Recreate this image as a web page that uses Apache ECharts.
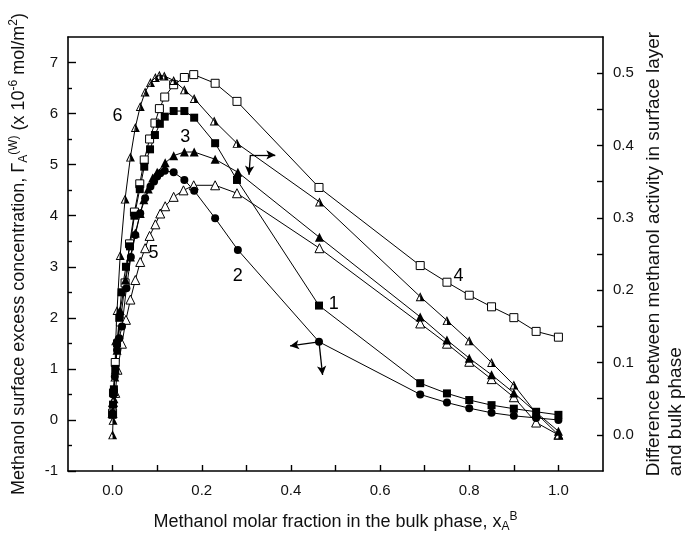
<!DOCTYPE html>
<html><head><meta charset="utf-8">
<script src="https://cdn.jsdelivr.net/npm/echarts@6/dist/echarts.min.js"></script>
<style>html,body{margin:0;padding:0;background:#fff}#c{width:686px;height:538px}</style>
</head><body><div id="c"></div>
<script>
// ---- data (x = methanol molar fraction in bulk phase) ----
// Curve 1 (filled squares, left axis, Γ x10^-6 mol/m2)
const curve1 = [[0.0,0.1],[0.001,0.3],[0.003,0.6],[0.006,1.0],[0.01,1.5],[0.015,2.0],[0.02,2.5],[0.03,3.0],[0.039,3.4],[0.049,4.0],[0.061,4.52],[0.071,4.96],[0.084,5.3],[0.095,5.58],[0.106,5.8],[0.117,5.94],[0.137,6.05],[0.161,6.05],[0.183,5.92],[0.23,5.42],[0.279,4.70],[0.463,2.24],[0.69,0.72],[0.75,0.52],[0.8,0.39],[0.85,0.29],[0.9,0.22],[0.95,0.16],[1.0,0.10]];
// Curve 2 (filled circles, left axis)
const curve2 = [[0.0,0.13],[0.002,0.5],[0.005,0.85],[0.0099,1.37],[0.015,1.6],[0.021,1.83],[0.031,2.58],[0.041,3.19],[0.051,3.62],[0.062,4.05],[0.073,4.34],[0.085,4.57],[0.093,4.67],[0.100,4.77],[0.107,4.83],[0.117,4.88],[0.137,4.85],[0.161,4.70],[0.183,4.49],[0.230,3.95],[0.281,3.33],[0.463,1.53],[0.69,0.50],[0.75,0.34],[0.8,0.23],[0.85,0.14],[0.9,0.08],[0.95,0.04],[1.0,0.0]];
// Curve 3 (filled triangles, right axis, activity difference)
const curve3 = [[0.0,0.03],[0.003,0.06],[0.006,0.09],[0.01,0.117],[0.017,0.172],[0.029,0.214],[0.040,0.246],[0.051,0.279],[0.062,0.306],[0.07,0.325],[0.08,0.34],[0.09,0.355],[0.100,0.363],[0.118,0.376],[0.137,0.386],[0.161,0.391],[0.183,0.391],[0.230,0.381],[0.281,0.363],[0.464,0.273],[0.69,0.163],[0.75,0.131],[0.8,0.106],[0.85,0.083],[0.9,0.058],[0.95,0.031],[1.0,0.005]];
// Curve 4 (open squares, right axis)
const curve4 = [[0.0,0.03],[0.002,0.058],[0.006,0.1],[0.0175,0.156],[0.028,0.21],[0.038,0.264],[0.049,0.308],[0.061,0.347],[0.071,0.380],[0.083,0.409],[0.095,0.431],[0.105,0.451],[0.117,0.467],[0.137,0.484],[0.161,0.494],[0.182,0.498],[0.230,0.486],[0.279,0.461],[0.463,0.342],[0.69,0.234],[0.75,0.211],[0.8,0.193],[0.85,0.177],[0.9,0.162],[0.95,0.143],[1.0,0.135]];
// Curve 5 (open triangles, right axis)
const curve5 = [[0.0,0.03],[0.001,0.045],[0.006,0.058],[0.011,0.090],[0.021,0.126],[0.030,0.159],[0.040,0.187],[0.051,0.214],[0.062,0.239],[0.073,0.258],[0.083,0.275],[0.096,0.291],[0.107,0.306],[0.118,0.316],[0.137,0.329],[0.159,0.338],[0.182,0.345],[0.230,0.345],[0.279,0.334],[0.464,0.258],[0.69,0.154],[0.75,0.126],[0.8,0.101],[0.85,0.077],[0.9,0.052],[0.95,0.017],[1.0,0.0]];
// Curve 6 (half-filled triangles, right axis)
const curve6 = [[0.0,0.0],[0.001,0.02],[0.003,0.05],[0.005,0.08],[0.007,0.13],[0.01,0.172],[0.017,0.248],[0.028,0.326],[0.040,0.384],[0.051,0.425],[0.062,0.454],[0.073,0.474],[0.085,0.487],[0.096,0.494],[0.105,0.497],[0.116,0.496],[0.137,0.490],[0.161,0.477],[0.183,0.465],[0.228,0.434],[0.279,0.403],[0.464,0.322],[0.69,0.191],[0.75,0.158],[0.8,0.130],[0.85,0.100],[0.9,0.069],[0.95,0.03],[1.0,0.0]];

// curve number labels (left-axis data coordinates)
const curveLabels = [['6',0.011,5.96],['3',0.163,5.55],['5',0.092,3.27],['2',0.281,2.82],['1',0.496,2.27],['4',0.776,2.81]];
// axis-indicator arrows (left-axis data coordinates): [fromX, fromY, toX, toY]
const arrows = [[0.463,1.53,0.398,1.45],[0.463,1.53,0.471,0.88],[0.309,5.19,0.365,5.19],[0.309,5.19,0.306,4.80]];

// ticks (labels on majors; ticks on majors and minors)
const xMajor = [0,0.2,0.4,0.6,0.8,1.0];
const xTicks = [0,0.1,0.2,0.3,0.4,0.5,0.6,0.7,0.8,0.9,1.0];
const yLeftMajor = [-1,0,1,2,3,4,5,6,7];
const yRightMajor = [0,0.1,0.2,0.3,0.4,0.5];
const yRightTicks = [0,0.05,0.1,0.15,0.2,0.25,0.3,0.35,0.4,0.45,0.5];

const FONT = '"Liberation Sans", Arial, sans-serif';
const halfTri = 'path://M5,0 L10,10 L0,10 Z M5,2.24 L1.62,9 L5,9 Z';
const supS = {fontSize: 12, fontFamily: FONT, color: '#111', padding: [0,0,10,0]};
const subS = {fontSize: 12, fontFamily: FONT, color: '#111', padding: [10,0,0,0]};

const axisLineS = () => ({show: true, onZero: false, lineStyle: {color: '#000', width: 1.6}});
const tickS = (vals, len) => ({show: true, inside: true, length: len, customValues: vals, lineStyle: {color: '#000', width: 1.4}});

function lineSeries(name, data, yIdx, symbol, size, fill) {
  return {
    name, type: 'line', data, xAxisIndex: 0, yAxisIndex: yIdx,
    symbol, symbolSize: size, showAllSymbol: true,
    lineStyle: {color: '#000', width: 1},
    itemStyle: {color: fill, borderColor: '#000', borderWidth: fill === '#fff' ? 1 : 0},
    emphasis: {disabled: true}, animation: false, z: 3
  };
}

const chart = echarts.init(document.getElementById('c'), null, {renderer: 'canvas'});
chart.setOption({
  backgroundColor: '#fff',
  animation: false,
  grid: {left: 68, right: 83, top: 37, bottom: 67, containLabel: false, outerBoundsMode: 'none'},
  xAxis: [
    {type: 'value', min: -0.1, max: 1.1, interval: 0.1, position: 'bottom',
     axisLine: axisLineS(), axisTick: tickS(xTicks, 6),
     axisLabel: {customValues: xMajor, formatter: v => v.toFixed(1), color: '#111', fontSize: 15, fontFamily: FONT, margin: 12},
     splitLine: {show: false},
     name: 'Methanol molar fraction in the bulk phase, x{sub|A}{sup|B}', nameLocation: 'middle', nameGap: 40,
     nameTextStyle: {fontSize: 18, fontFamily: FONT, color: '#111', rich: {sup: supS, sub: subS}}},
    {type: 'value', min: -0.1, max: 1.1, interval: 0.1, position: 'top',
     axisLine: axisLineS(), axisTick: {show: false}, axisLabel: {show: false}, splitLine: {show: false}}
  ],
  yAxis: [
    {type: 'value', min: -1, max: 7.5, interval: 1, position: 'left',
     axisLine: axisLineS(), axisTick: tickS(yLeftMajor, 8),
     minorTick: {show: true, splitNumber: 2, length: 4, lineStyle: {color: '#000', width: 1.4}},
     axisLabel: {customValues: yLeftMajor, color: '#111', fontSize: 15, fontFamily: FONT, margin: 10},
     splitLine: {show: false}, minorSplitLine: {show: false},
     name: 'Methanol surface excess concentration, Γ{sub|A}{sup|(W)} (x 10{sup|-6} mol/m{sup|2})',
     nameLocation: 'middle', nameRotate: 90, nameGap: 38,
     nameTextStyle: {fontSize: 18, fontFamily: FONT, color: '#111', rich: {sup: supS, sub: subS}}},
    {type: 'value', min: -0.05, max: 0.55, interval: 0.05, position: 'right',
     axisLine: axisLineS(), axisTick: tickS(yRightTicks, 6),
     axisLabel: {customValues: yRightMajor, formatter: v => v.toFixed(1), color: '#111', fontSize: 15, fontFamily: FONT, margin: 10},
     splitLine: {show: false},
     name: '{a|Difference between methanol activity in surface layer}\n{a|and bulk phase}',
     nameLocation: 'middle', nameRotate: 90, nameGap: 36,
     nameTextStyle: {fontSize: 19, fontFamily: FONT, color: '#111', align: 'center',
       rich: {a: {fontSize: 19, fontFamily: FONT, color: '#111', lineHeight: 22, align: 'left'}}}}
  ],
  series: [
    lineSeries('4', curve4, 1, 'rect', 8, '#fff'),
    lineSeries('5', curve5, 1, 'triangle', 9, '#fff'),
    lineSeries('6', curve6, 1, halfTri, 9, '#000'),
    lineSeries('3', curve3, 1, 'triangle', 9, '#000'),
    lineSeries('1', curve1, 0, 'rect', 8, '#000'),
    lineSeries('2', curve2, 0, 'circle', 8, '#000'),
    {type: 'scatter', xAxisIndex: 0, yAxisIndex: 0, symbol: 'circle', symbolSize: 2, silent: true, z: 5,
     itemStyle: {color: 'rgba(0,0,0,0)'},
     label: {show: true, position: 'inside', formatter: p => p.data.name, fontSize: 18, fontFamily: FONT, color: '#000', textBorderWidth: 0, opacity: 1},
     data: curveLabels.map(l => ({name: l[0], value: [l[1], l[2]]})),
     markLine: {silent: true, symbol: ['none', 'arrow'], symbolSize: [7, 9], animation: false,
       lineStyle: {color: '#000', width: 1.3, type: 'solid'}, label: {show: false},
       data: arrows.map(a => [{coord: [a[0], a[1]]}, {coord: [a[2], a[3]]}])}}
  ]
});
</script></body></html>
